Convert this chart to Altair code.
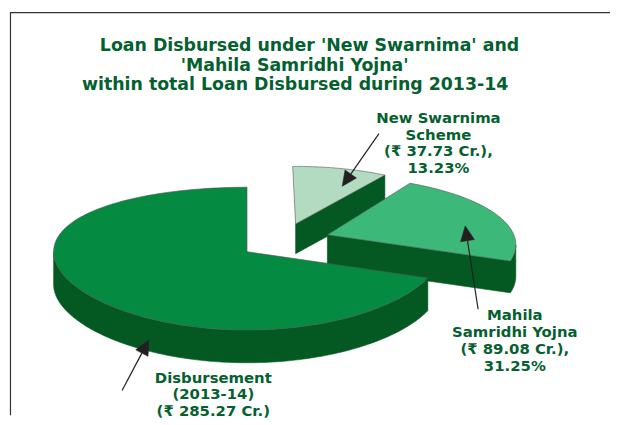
import numpy as np
import pandas as pd
import altair as alt

# Data
slice_names = ["New Swarnima Scheme", "Mahila Samridhi Yojna", "Disbursement (2013-14)"]
slice_values = [37.73, 89.08, 285.27]
title_lines = ["Loan Disbursed under 'New Swarnima' and", "'Mahila Samridhi Yojna'", "within total Loan Disbursed during 2013-14"]
label_lines = [
    ["New Swarnima", "Scheme", "(₹ 37.73 Cr.),", "13.23%"],
    ["Mahila", "Samridhi Yojna", "(₹ 89.08 Cr.),", "31.25%"],
    ["Disbursement", "(2013-14)", "(₹ 285.27 Cr.)"],
]

# Layout
W, H = 605, 409
xs = alt.Scale(domain=[8, 8 + W], range=[0, W], nice=False, zero=False)
ys = alt.Scale(domain=[8 + H, 8], range=[H, 0], nice=False, zero=False)
X = alt.X("x:Q", scale=xs, axis=None)
Y = alt.Y("y:Q", scale=ys, axis=None)

total = sum(slice_values)
spans = [v / total * 360 for v in slice_values]
TEXT = "#04602f"
FONT = "DejaVu Sans"


def arc(g, a0, a1, n=80, dy=0):
    t = np.radians(np.linspace(a0, a1, n))
    u = -np.cos(t)
    return list(zip(g["cx"] + g["rx"] * np.sin(t), g["cy"] + g["ry"] * u + g["q"] * u ** 2 + dy))


def poly(points, fill, stroke=None, sw=0.6):
    df = pd.DataFrame(points + points[:1], columns=["x", "y"])
    df["i"] = range(len(df))
    return alt.Chart(df).mark_line(fill=fill, stroke=stroke or fill, strokeWidth=sw, strokeJoin="miter", interpolate="linear").encode(
        x=X, y=Y, order="i:Q")


def line(points, color="#333333", sw=1.0):
    df = pd.DataFrame(points, columns=["x", "y"])
    df["i"] = range(len(df))
    return alt.Chart(df).mark_line(stroke=color, strokeWidth=sw).encode(x=X, y=Y, order="i:Q")


def arrow(tail, tip, hl=15, hw=7):
    tail, tip = np.array(tail, float), np.array(tip, float)
    d = (tip - tail) / np.linalg.norm(tip - tail)
    n = np.array([-d[1], d[0]])
    base = tip - d * hl
    return [line([tuple(tail), tuple(base)], "#231f20", 1.2),
            poly([tuple(tip), tuple(base + n * hw), tuple(base - n * hw)], "#231f20")]


def text_block(lines, cx, y0, step=17, size=15):
    df = pd.DataFrame({"t": lines, "x": [cx] * len(lines), "y": [y0 + i * step for i in range(len(lines))]})
    return alt.Chart(df).mark_text(font=FONT, fontWeight="bold", fontSize=size, color=TEXT, align="center", baseline="middle").encode(
        x=X, y=Y, text="t:N")


TOP = {"main": "#058a42", "mah": "#3cb878", "new": "#b2dbc1"}
WALL = "#045923"
EDGE = "#555555"

g_new = dict(cx=296, cy=224, rx=170, ry=58, q=0)
g_mah = dict(cx=328, cy=245, rx=190, ry=69, q=0)
g_main = dict(cx=247, cy=252, rx=195, ry=72, q=7)
a_new = (-1, -1 + spans[0])
a_mah = (26, 26 + spans[1])
a_main = (360 - spans[2], 360)
apex_new, apex_mah, apex_main = (296, 224), (328, 235), (247, 252)

layers = []
# frame
layers.append(line([(613, 11), (8.5, 11), (8.5, 417)], "#333333", 1.2))

# New Swarnima
end = arc(g_new, a_new[1], a_new[1], 1)[0]
layers.append(poly([apex_new, end, (end[0], end[1] + 30), (apex_new[0], apex_new[1] + 30)], WALL))
layers.append(poly([apex_new] + arc(g_new, *a_new), TOP["new"], EDGE))

# Mahila
arc_end = arc(g_mah, a_mah[1], 90, 30)
layers.append(poly([apex_mah, (apex_mah[0], apex_mah[1] + 32)] + [(p[0], p[1] + 32) for p in arc_end] + arc_end[::-1], WALL))
layers.append(poly([apex_mah] + arc(g_mah, *a_mah), TOP["mah"], EDGE))

# Disbursement
wall_top = arc(g_main, a_main[0], 270, 120)
layers.append(poly(wall_top + [(p[0], p[1] + 33) for p in wall_top[::-1]], WALL))
layers.append(poly([apex_main] + arc(g_main, *a_main, 200), TOP["main"], EDGE))

# arrows
layers += arrow((380, 133), (343, 186))
layers += arrow((480, 310), (467, 226))
layers += arrow((121, 392), (148, 341))

# text
layers.append(text_block(title_lines[:1], 310, 45, size=17.5))
layers.append(text_block(title_lines[1:2], 295, 64.5, size=17.5))
layers.append(text_block(title_lines[2:], 295.5, 84, size=17.5))
layers.append(text_block(label_lines[0], 440, 117))
layers.append(text_block(label_lines[1], 517, 316))
layers.append(text_block(label_lines[2], 213, 379))

chart = alt.layer(*layers).properties(width=W, height=H, padding=0, background="white").configure_view(stroke=None)
chart.save("out.html", embed_options={"renderer": "svg", "actions": False})
